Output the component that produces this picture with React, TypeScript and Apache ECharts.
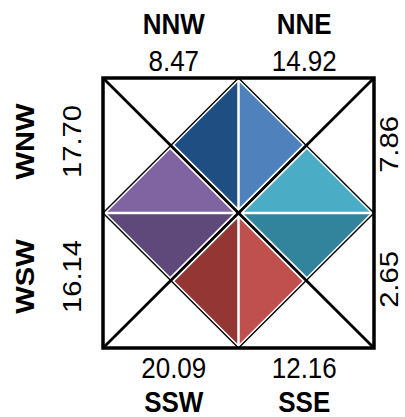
import React, { useEffect, useRef } from "react";
import * as echarts from "echarts";

const directions = ["NNW", "NNE", "ENE", "ESE", "SSE", "SSW", "WSW", "WNW"];
const values = [8.47, 14.92, 7.86, 2.65, 12.16, 20.09, 16.14, 17.7];
const colors = ["#1F4E82", "#4F81BD", "#4BACC6", "#31849B", "#C0504D", "#943634", "#5F497A", "#8064A2"];
const showName = [true, true, false, false, true, true, true, true];

const FONT = "'Liberation Sans', Arial, Helvetica, sans-serif";
const STRETCH = 1.12;

function geom(i: number) {
  const b = -22.5 + 45 * i;
  const outer = Math.round(b / 90) * 90;
  const mid = b < outer ? outer - 45 : outer + 45;
  const r = (d: number) => (d * Math.PI) / 180;
  const o = [Math.round(Math.sin(r(outer))), Math.round(Math.cos(r(outer)))];
  const m = [Math.sign(Math.sin(r(mid))) * 0.5, Math.sign(Math.cos(r(mid))) * 0.5];
  return { outer: ((outer % 360) + 360) % 360, o, m };
}

export default function App() {
  const ref = useRef<HTMLDivElement>(null);
  useEffect(() => {
    const chart = echarts.init(ref.current!, null, { renderer: "svg" });
    const data = directions.map((d, i) => ({ name: d, value: [i, values[i]] }));
    const option: any = {
      animation: false,
      grid: { left: 103, top: 78, width: 271, height: 270 },
      xAxis: { type: "value", min: -1, max: 1, show: false },
      yAxis: { type: "value", min: -1, max: 1, show: false },
      series: [
        {
          type: "custom",
          name: "sectors",
          z: 1,
          data,
          renderItem: (params: any, api: any) => {
            const i = api.value(0);
            const g = geom(i);
            const pts = [api.coord(g.o), api.coord([0, 0]), api.coord(g.m)];
            return { type: "polygon", shape: { points: pts }, style: { fill: colors[i] } };
          },
        },
        {
          type: "custom",
          name: "frame",
          z: 2,
          data: [[0, 0]],
          renderItem: (params: any, api: any) => {
            const c = (x: number, y: number) => api.coord([x, y]);
            const ln = (a: number[], b: number[], w: number, col: string) => ({
              type: "line",
              shape: { x1: a[0], y1: a[1], x2: b[0], y2: b[1] },
              style: { stroke: col, lineWidth: w, lineCap: "butt" },
            });
            const diamond = [c(0, 1), c(1, 0), c(0, -1), c(-1, 0)];
            const children: any[] = [];
            children.push(ln(c(-1, 1), c(1, -1), 6, "#fff"));
            children.push(ln(c(-1, -1), c(1, 1), 6, "#fff"));
            for (let k = 0; k < 4; k++) children.push(ln(diamond[k], diamond[(k + 1) % 4], 4.5, "#fff"));
            children.push(ln(c(0, 1), c(0, -1), 2.5, "#fff"));
            children.push(ln(c(-1, 0), c(1, 0), 2.5, "#fff"));
            children.push(ln(c(-1, 1), c(1, -1), 2.8, "#000"));
            children.push(ln(c(-1, -1), c(1, 1), 2.8, "#000"));
            for (let k = 0; k < 4; k++) children.push(ln(diamond[k], diamond[(k + 1) % 4], 1.4, "#000"));
            const tl = c(-1, 1);
            const br = c(1, -1);
            children.push({
              type: "rect",
              shape: { x: tl[0], y: tl[1], width: br[0] - tl[0], height: br[1] - tl[1] },
              style: { fill: "none", stroke: "#000", lineWidth: 3.5 },
            });
            return { type: "group", children };
          },
        },
        {
          type: "custom",
          name: "labels",
          z: 3,
          data,
          renderItem: (params: any, api: any) => {
            const i = api.value(0);
            const v = api.value(1);
            const g = geom(i);
            const txt = (x: number, y: number, s: string, bold: boolean, rot: number) => ({
              type: "text",
              x,
              y,
              rotation: rot,
              scaleX: rot ? STRETCH : 1,
              scaleY: rot ? 1 : STRETCH,
              style: {
                text: s,
                fill: "#000",
                fontSize: 26,
                lineHeight: 21,
                fontWeight: bold ? "bold" : "normal",
                fontFamily: FONT,
                align: "center",
                verticalAlign: "middle",
              },
            });
            const children: any[] = [];
            const vs = v.toFixed(2);
            const name = directions[i];
            if (g.outer === 0) {
              const a = api.coord([g.m[0], 1]);
              const x = a[0] + (g.m[0] < 0 ? 3 : -2);
              children.push(txt(x, a[1] - 17, vs, false, 0));
              if (showName[i]) children.push(txt(x, a[1] - 54.5, name, true, 0));
            } else if (g.outer === 180) {
              const a = api.coord([g.m[0], -1]);
              const x = a[0] + (g.m[0] < 0 ? 3 : -2);
              children.push(txt(x, a[1] + 20, vs, false, 0));
              if (showName[i]) children.push(txt(x, a[1] + 54, name, true, 0));
            } else if (g.outer === 270) {
              const a = api.coord([-1, g.m[1]]);
              const y = a[1] - 4;
              children.push(txt(a[0] - 31, y, vs, false, Math.PI / 2));
              if (showName[i]) children.push(txt(a[0] - 78, y, name, true, Math.PI / 2));
            } else {
              const a = api.coord([1, g.m[1]]);
              const y = a[1] - 1;
              children.push(txt(a[0] + 15, y, vs, false, Math.PI / 2));
              if (showName[i]) children.push(txt(a[0] + 68, y, name, true, Math.PI / 2));
            }
            return { type: "group", children };
          },
        },
      ],
    };
    chart.setOption(option);
    return () => chart.dispose();
  }, []);
  return (
    <div
      ref={ref}
      style={{ position: "fixed", left: 0, top: 0, width: 405, height: 417, background: "#fff" }}
    />
  );
}
